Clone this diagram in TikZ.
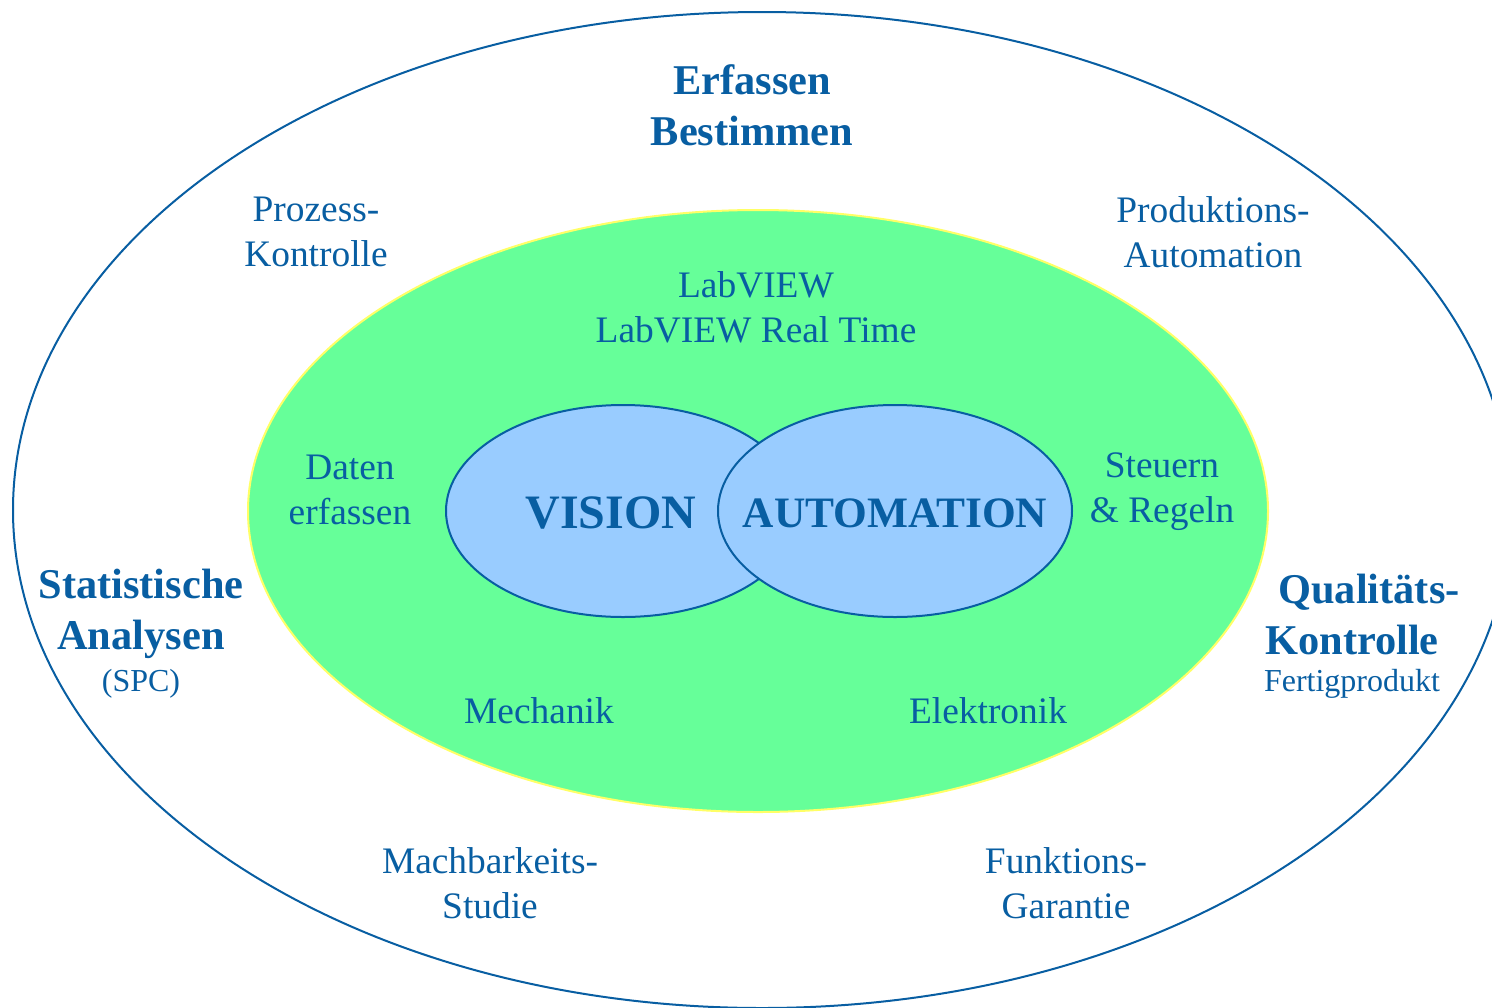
\documentclass[tikz,border=0pt]{standalone}
\usepackage{fontspec}
\setmainfont{Liberation Serif}
\usetikzlibrary{positioning}

\definecolor{inkblue}{RGB}{8,94,162}
\definecolor{fieldgreen}{RGB}{102,255,153}
\definecolor{coreblue}{RGB}{153,204,255}
\definecolor{rimyellow}{RGB}{255,255,102}

\tikzset{
  label/.style={text=inkblue, align=center, inner sep=0pt,
    font=\fontsize{18.7}{22.5}\selectfont},
  headline/.style={text=inkblue, align=center, inner sep=0pt,
    font=\fontsize{21.2}{25.5}\selectfont\bfseries},
  note/.style={text=inkblue, align=center, inner sep=0pt,
    font=\fontsize{16}{18}\selectfont},
  core/.style={draw=inkblue, line width=1pt, fill=coreblue}
}

\begin{document}
\begin{tikzpicture}[x=0.5pt, y=-0.5pt]
  \useasboundingbox (0,0) rectangle (1492,1007);

  % Outer ring and the green field
  \begin{scope}
    \clip (0,0) rectangle (1492,1007);
    \draw[inkblue, line width=1pt] (762,510) ellipse [x radius=749, y radius=498];
  \end{scope}
  \draw[rimyellow, fill=fieldgreen, line width=1pt] (758,511) ellipse [x radius=510, y radius=301];

  % The two cores
  \draw[core] (623,511) ellipse [x radius=177, y radius=106];
  \draw[core] (895,511) ellipse [x radius=177, y radius=106];
  \node[text=inkblue, inner sep=0pt, font=\fontsize{24}{28}\selectfont\bfseries] (vision) at (611,513) {VISION};
  \node[text=inkblue, inner sep=0pt, font=\fontsize{21.7}{26}\selectfont\bfseries] (automation) at (895,513) {AUTOMATION};

  % Inside the green field
  \node[label] (labview) at (756,307) {LabVIEW\\LabVIEW Real Time};
  \node[label] (daten) at (350,490) {Daten\\erfassen};
  \node[label] (steuern) at (1162,492) {Steuern\\\& Regeln};
  \node[label] (mechanik) at (539,711) {Mechanik};
  \node[label] (elektronik) at (988,711) {Elektronik};

  % Outer ring
  \node[headline] (erfassen) at (752,105) {Erfassen\\Bestimmen};
  \node[label] (prozess) at (316,232) {Prozess-\\Kontrolle};
  \node[label] (produktion) at (1213,232) {Produktions-\\Automation};
  \node[headline] (statistik) at (141,614) {Statistische\\Analysen};
  \node[note, below=5pt of statistik] (spc) {(SPC)};
  \node[headline] (qualitaet) at (1352,614) {\hspace*{0.8em}Qualitäts-\\Kontrolle};
  \node[note, below=7pt of qualitaet] (fertig) {Fertigprodukt};
  \node[label] (machbar) at (490,883) {Machbarkeits-\\Studie};
  \node[label] (funktion) at (1066,883) {Funktions-\\Garantie};
\end{tikzpicture}
\end{document}
